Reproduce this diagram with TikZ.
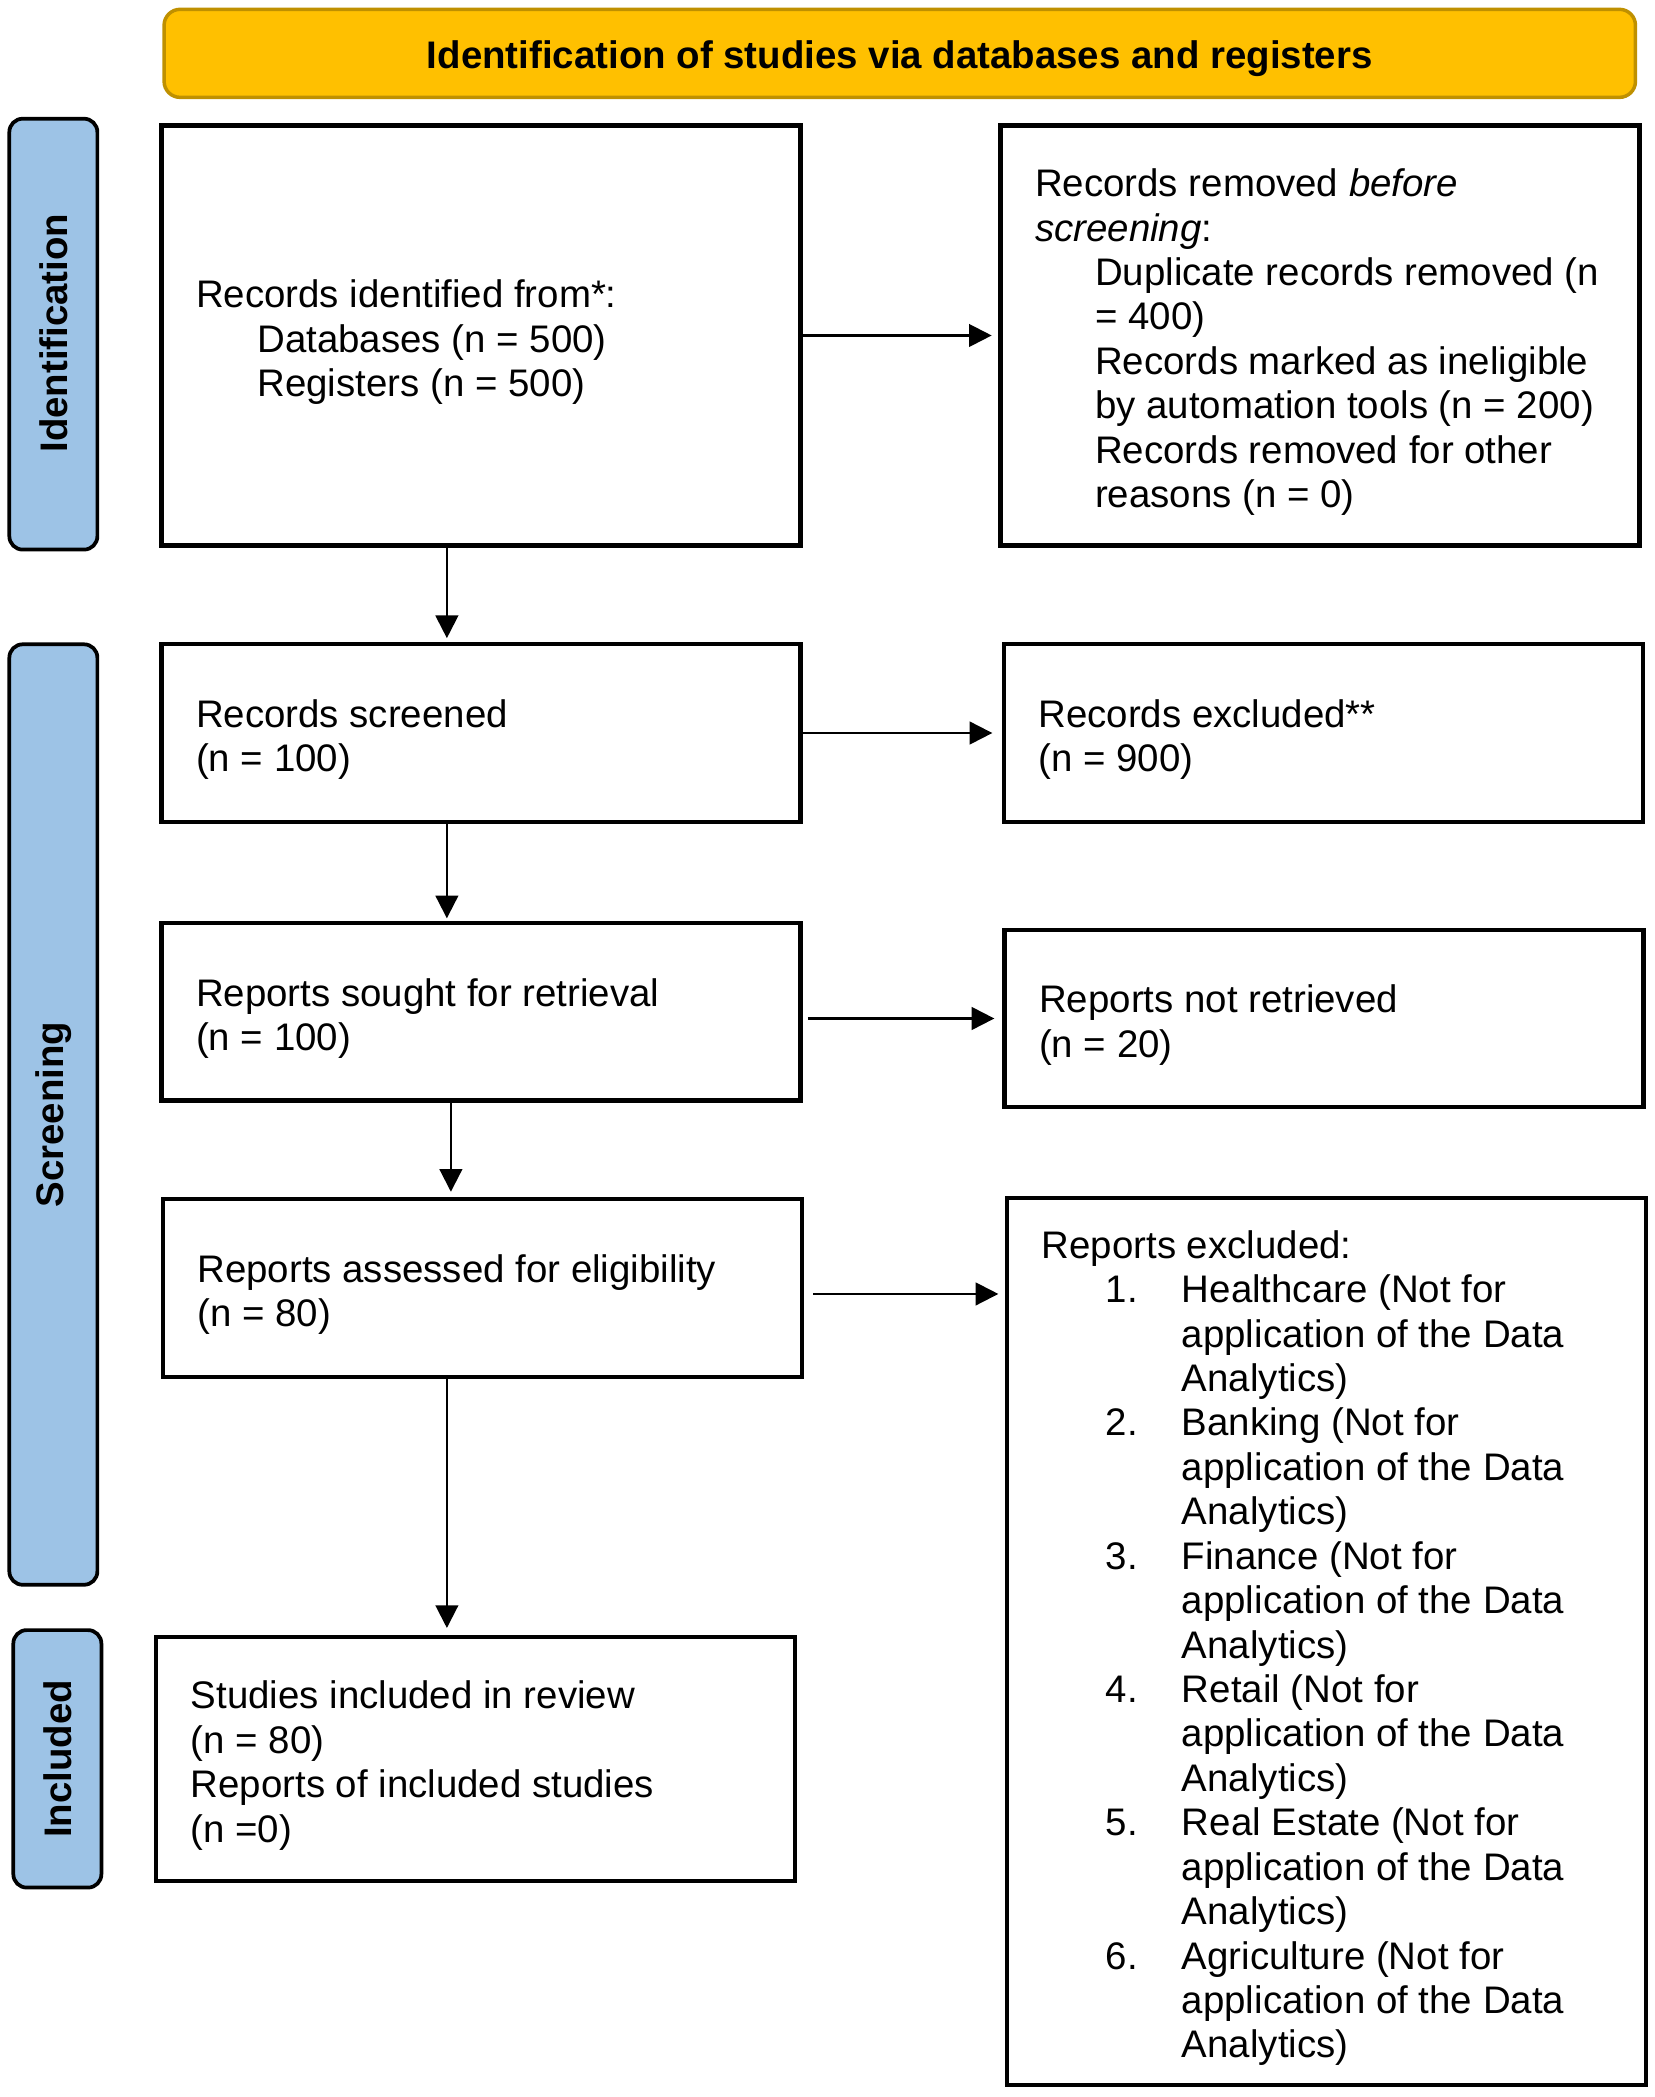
\documentclass[tikz,border=0pt]{standalone}
\usepackage{fontspec}
\usepackage{graphicx}
\setmainfont{Liberation Sans}
\usetikzlibrary{arrows.meta,calc}
\definecolor{gold}{HTML}{FFC000}
\definecolor{goldline}{HTML}{BF9000}
\definecolor{sideblue}{HTML}{9DC3E6}
\newcommand{\btext}[1]{\raisebox{-2.5pt}[\height][\depth]{\parbox{213.5pt}{\raggedright #1}}}
\begin{document}
\begin{tikzpicture}[x=0.5pt,y=-0.5pt,
  every node/.style={font=\fontsize{14.4pt}{16.65pt}\selectfont},
  mainbox/.style={draw=black, line width=1.6pt, fill=white, inner xsep=13pt, inner ysep=0pt, minimum width=239.5pt},
  sidebox/.style={draw=black, line width=1.4pt, fill=sideblue, rounded corners=5pt, minimum width=33pt, inner sep=0pt},
  arr/.style={line width=0.8pt, -{Triangle[length=8.5pt,width=8.5pt]}}
]
\useasboundingbox (0,0) rectangle (1240,1572);

% title
\node[draw=goldline, fill=gold, line width=1.3pt, rounded corners=6pt, minimum width=551.5pt, minimum height=33pt, inner sep=0pt] (title) at (674.5,40) {\raisebox{-2pt}[\height][\depth]{\bfseries Identification of studies via databases and registers}};

% side labels
\node[sidebox, minimum height=161.5pt] (sid) at (40,250.5) {\raisebox{0.75pt}{\rotatebox{90}{\bfseries Identification}}};
\node[sidebox, minimum height=352.5pt] (sscr) at (40,835.5) {\rotatebox{90}{\bfseries Screening}};
\node[sidebox, minimum height=96.5pt] (sinc) at (43,1318.5) {\rotatebox{90}{\bfseries Included}};

% main boxes
\node[mainbox, minimum height=157.5pt] (B1) at (360.5,251.5) {\btext{Records identified from*:\\\hspace*{23pt}Databases (n = 500)\\\hspace*{23pt}Registers (n = 500)}};
\node[mainbox, minimum height=157.5pt] (R1) at (989.5,251.5) {\btext{Records removed \textit{before}\\\textit{screening}:\\\hspace*{22.5pt}\mbox{Duplicate records removed (n}\\\hspace*{22.5pt}= 400)\\\hspace*{22.5pt}Records marked as ineligible\\\hspace*{22.5pt}\mbox{by automation tools (n = 200)}\\\hspace*{22.5pt}Records removed for other\\\hspace*{22.5pt}reasons (n = 0)}};

\node[mainbox, minimum height=66.5pt] (B2) at (360.5,549.5) {\btext{Records screened\\(n = 100)}};
\node[mainbox, minimum height=66.5pt] (R2) at (992,549.5) {\btext{Records excluded**\\(n = 900)}};

\node[mainbox, minimum height=66.5pt] (B3) at (360.5,758.5) {\btext{Reports sought for retrieval\\(n = 100)}};
\node[mainbox, minimum height=66.5pt] (R3) at (992.5,763.5) {\btext{Reports not retrieved\\(n = 20)}};

\node[mainbox, minimum height=66.5pt] (B4) at (361.5,965.5) {\btext{Reports assessed for eligibility\\(n = 80)}};
\node[mainbox, minimum height=332.5pt] (R4) at (994.5,1230.5) {\btext{Reports excluded:\\
\hspace*{24pt}\makebox[28.5pt][l]{1.}Healthcare (Not for\\\hspace*{52.5pt}application of the Data\\\hspace*{52.5pt}Analytics)\\
\hspace*{24pt}\makebox[28.5pt][l]{2.}Banking (Not for\\\hspace*{52.5pt}application of the Data\\\hspace*{52.5pt}Analytics)\\
\hspace*{24pt}\makebox[28.5pt][l]{3.}Finance (Not for\\\hspace*{52.5pt}application of the Data\\\hspace*{52.5pt}Analytics)\\
\hspace*{24pt}\makebox[28.5pt][l]{4.}Retail (Not for\\\hspace*{52.5pt}application of the Data\\\hspace*{52.5pt}Analytics)\\
\hspace*{24pt}\makebox[28.5pt][l]{5.}Real Estate (Not for\\\hspace*{52.5pt}application of the Data\\\hspace*{52.5pt}Analytics)\\
\hspace*{24pt}\makebox[28.5pt][l]{6.}Agriculture (Not for\\\hspace*{52.5pt}application of the Data\\\hspace*{52.5pt}Analytics)}};

\node[mainbox, minimum height=91.5pt] (B5) at (356.5,1318.5) {\btext{Studies included in review\\(n = 80)\\Reports of included studies\\(n =0)}};

% horizontal arrows
\draw[arr, shorten >=2.5pt] (B1.east) -- (R1.west);
\draw[arr, shorten >=3.5pt] (B2.east) -- (R2.west);
\coordinate (b3r) at ([xshift=2pt]B3.east);
\draw[arr, shorten >=3pt] (b3r |- R3.west) -- (R3.west);
\coordinate (b4r) at ([xshift=3.5pt,yshift=-2.25pt]B4.east);
\draw[arr, shorten >=2.5pt] (b4r) -- (b4r -| R4.west);

% vertical arrows
\coordinate (b1d) at ([xshift=-12.75pt]B1.south);
\draw[arr, shorten >=1.5pt] (b1d) -- (b1d |- B2.north);
\coordinate (b2d) at ([xshift=-12.75pt]B2.south);
\draw[arr, shorten >=1pt] (b2d) -- (b2d |- B3.north);
\coordinate (b3d) at ([xshift=-11.25pt]B3.south);
\draw[arr, shorten >=2pt] (b3d) -- (b3d |- B4.north);
\coordinate (b4d) at ([xshift=-13.25pt]B4.south);
\draw[arr, shorten >=2.5pt] (b4d) -- (b4d |- B5.north);
\end{tikzpicture}
\end{document}
